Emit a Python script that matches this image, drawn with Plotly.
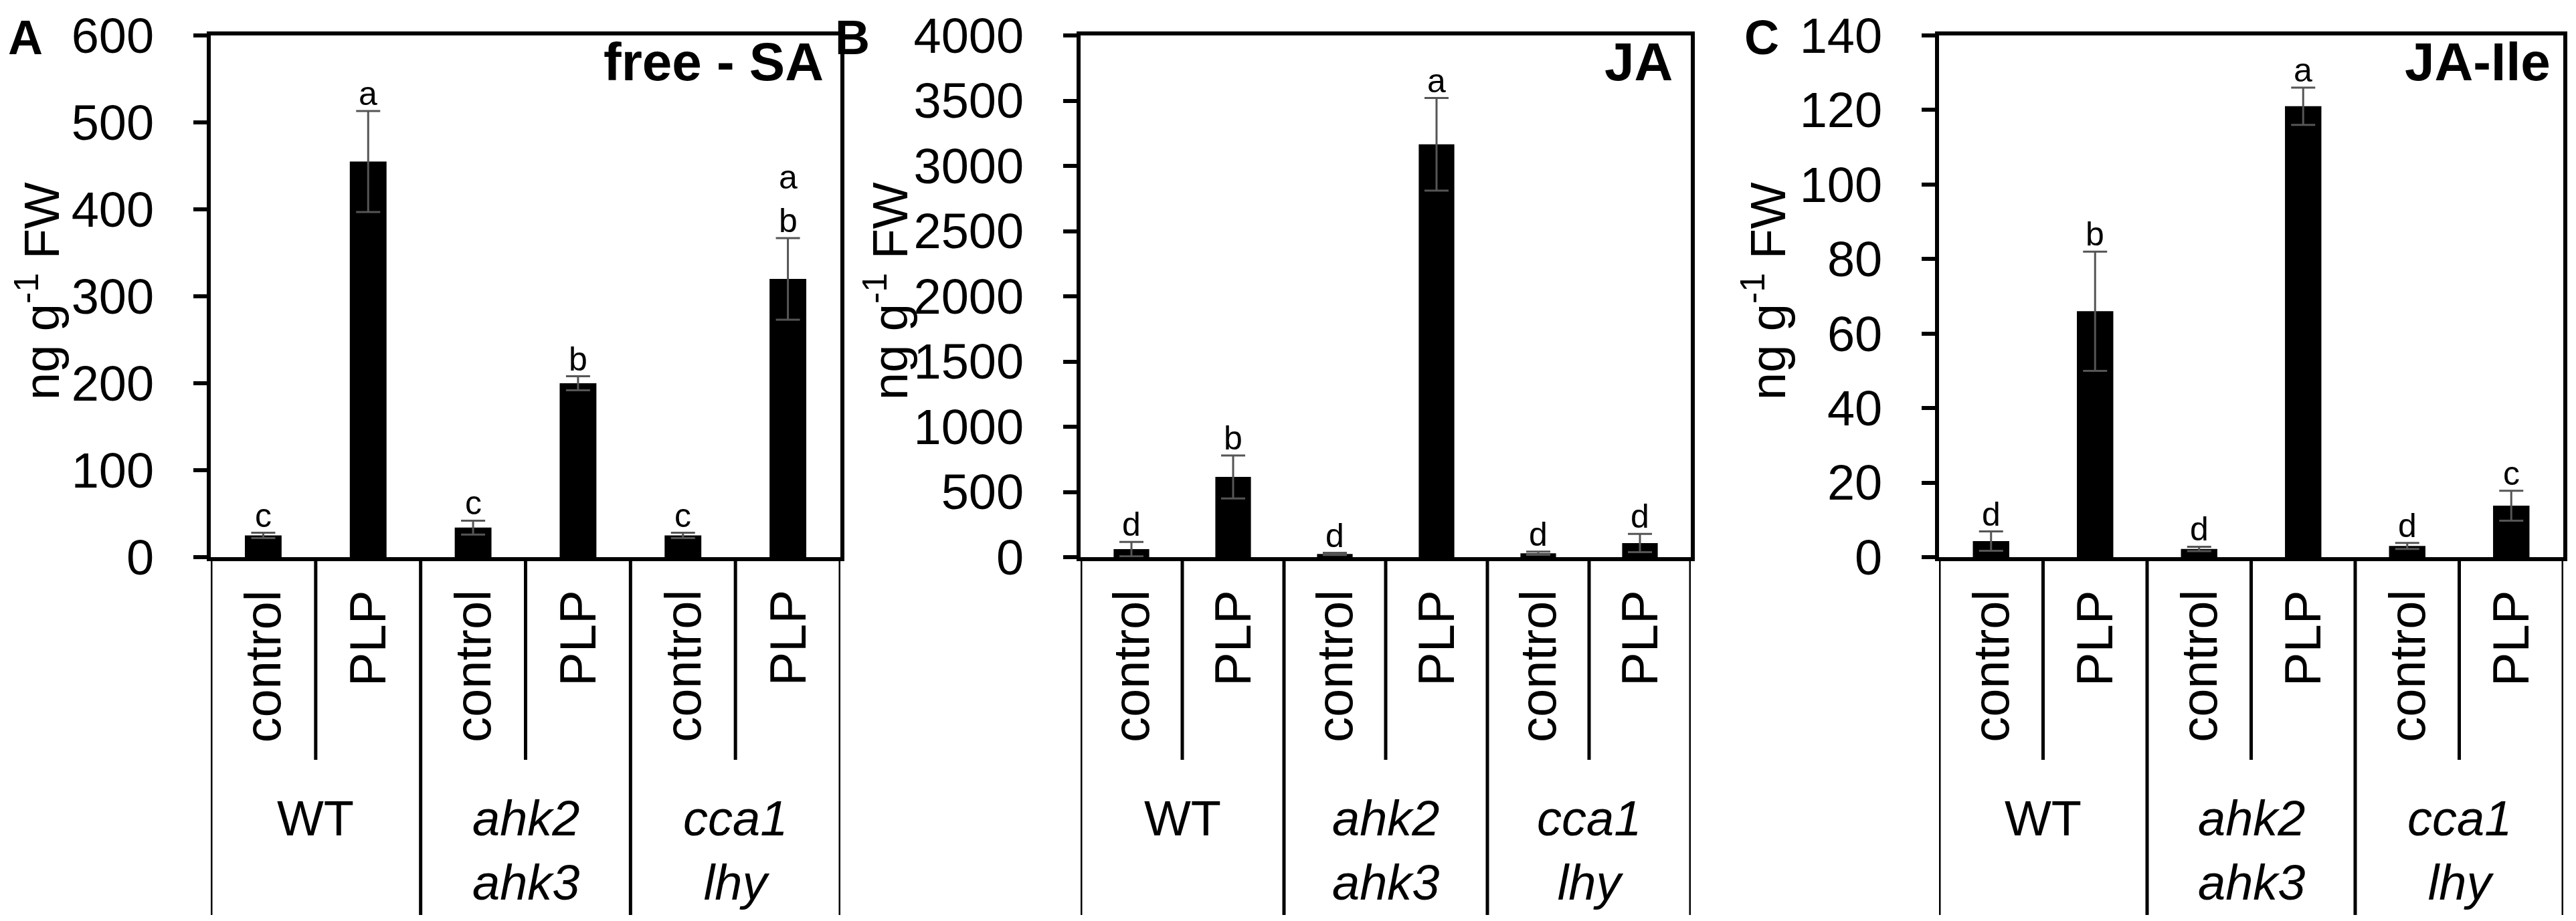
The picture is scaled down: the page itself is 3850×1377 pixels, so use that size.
import plotly.graph_objects as go

# ---- 画布尺寸 (px) ----
W, H = 3850, 1377

# ---- 数据 ----
treatments = ["control", "PLP", "control", "PLP", "control", "PLP"]
genotypes = ["WT", "<i>ahk2</i><br><i>ahk3</i>", "<i>cca1</i><br><i>lhy</i>"]

sa_mean = [25, 455, 34, 200, 25, 320]
sa_err = [3, 58, 8, 8, 3, 47]
sa_letters = ["c", "a", "c", "b", "c", "a b"]

ja_mean = [62, 615, 25, 3165, 30, 108]
ja_err = [55, 165, 8, 355, 12, 70]
ja_letters = ["d", "b", "d", "a", "d", "d"]

jaile_mean = [4.3, 66, 2.2, 121, 3.0, 13.8]
jaile_err = [2.6, 16, 0.6, 5, 0.8, 4]
jaile_letters = ["d", "b", "d", "a", "d", "c"]

panel_tags = ["A", "B", "C"]
panel_titles = ["free - SA", "JA", "JA-Ile"]
y_ranges = [[0, 600], [0, 4000], [0, 140]]
y_dticks = [100, 500, 20]

FONT = "Liberation Sans, Arial, sans-serif"
NARROW = "Liberation Sans Narrow, Arial Narrow, Liberation Sans, Arial, sans-serif"


def px(x):
    return x / W


def py(y):
    return 1 - y / H


# 各面板的像素位置: 左轴, 右框, y标题中心, 字母中心, 标题右端
panel_left = [307, 1607, 2890]
panel_right = [1248, 2519, 3823]
ytitle_x = [49, 1317, 2629]
tag_x = [30, 1266, 2625]
title_right = [1225, 2494, 3806]

plot_top, plot_bottom = 45, 825
short_bottom, long_bottom = 1128, 1360

series = [
    (sa_mean, sa_err, sa_letters),
    (ja_mean, ja_err, ja_letters),
    (jaile_mean, jaile_err, jaile_letters),
]

fig = go.Figure()
annotations = []
shapes = []
x_pos = list(range(len(treatments)))

for k, (mean, err, letters) in enumerate(series):
    xa = "x" if k == 0 else f"x{k + 1}"
    ya = "y" if k == 0 else f"y{k + 1}"

    fig.add_trace(go.Bar(
        x=x_pos, y=mean,
        error_y=dict(type="data", array=err, color="#555555", thickness=3, width=18),
        marker=dict(color="black", line=dict(width=0)),
        width=0.35,
        xaxis=xa, yaxis=ya,
        showlegend=False,
    ))

    # 显著性字母 (多个字母竖排叠放)
    for i, lab in enumerate(letters):
        annotations.append(dict(
            x=i, y=mean[i] + err[i], xref=xa, yref=ya,
            text="<br>".join(lab.split()), showarrow=False,
            xanchor="center", yanchor="bottom", yshift=-4,
            font=dict(family=NARROW, size=50, color="black"),
        ))

    # 处理标签 (竖排)
    for i, t in enumerate(treatments):
        annotations.append(dict(
            x=i, y=py(872), xref=xa, yref="paper",
            text=t, textangle=-90, showarrow=False,
            xanchor="center", yanchor="top",
            font=dict(family=FONT, size=76, color="black"),
        ))

    # 基因型标签
    for g, name in enumerate(genotypes):
        annotations.append(dict(
            x=2 * g + 0.5, y=py(1172), xref=xa, yref="paper",
            text=name, showarrow=False, xanchor="center", yanchor="top",
            align="center",
            font=dict(family=FONT, size=74, color="black"),
        ))

    # 面板字母, 标题, y轴标题
    annotations.append(dict(
        x=px(tag_x[k]), y=py(48), xref="paper", yref="paper",
        text=f"<b>{panel_tags[k]}</b>", showarrow=False,
        xanchor="center", yanchor="middle",
        font=dict(family=FONT, size=72, color="black"),
    ))
    annotations.append(dict(
        x=px(title_right[k]), y=py(38), xref="paper", yref="paper",
        text=f"<b>{panel_titles[k]}</b>", showarrow=False,
        xanchor="right", yanchor="top",
        font=dict(family=FONT, size=80, color="black"),
    ))
    annotations.append(dict(
        x=px(ytitle_x[k]), y=py((plot_top + plot_bottom) / 2 - 8), xref="paper", yref="paper",
        text="ng g<sup>-1</sup> FW", textangle=-90, showarrow=False,
        xanchor="center", yanchor="middle",
        font=dict(family=FONT, size=74, color="black"),
    ))

    # 下方分隔线
    for b in range(len(treatments) + 1):
        xb = b - 0.5
        bottom = long_bottom if b % 2 == 0 else short_bottom
        shapes.append(dict(
            type="line", xref=xa, yref="paper",
            x0=xb, x1=xb, y0=py(plot_bottom), y1=py(bottom),
            line=dict(color="black", width=5),
        ))

    dom_x = [px(panel_left[k]), px(panel_right[k])]
    dom_y = [py(plot_bottom), py(plot_top)]
    xkey = "xaxis" if k == 0 else f"xaxis{k + 1}"
    ykey = "yaxis" if k == 0 else f"yaxis{k + 1}"
    fig.update_layout({
        xkey: dict(
            domain=dom_x, anchor=ya, range=[-0.5, 5.5], automargin=False,
            showticklabels=False, ticks="", showgrid=False, zeroline=False,
            showline=True, linewidth=6, linecolor="black", mirror=True,
        ),
        ykey: dict(
            domain=dom_y, anchor=xa, range=y_ranges[k], dtick=y_dticks[k],
            automargin=False,
            ticks="outside", ticklen=20, tickwidth=6, tickcolor="black",
            showgrid=False, zeroline=False,
            showline=True, linewidth=6, linecolor="black", mirror=True,
            ticklabelstandoff=44,
            tickfont=dict(family=FONT, size=74, color="black"),
        ),
    })

fig.update_layout(
    width=W, height=H,
    margin=dict(l=0, r=0, t=0, b=0, pad=0, autoexpand=False),
    paper_bgcolor="white", plot_bgcolor="white",
    annotations=annotations, shapes=shapes,
    bargap=0.65,
)

fig.write_html("out.html")
